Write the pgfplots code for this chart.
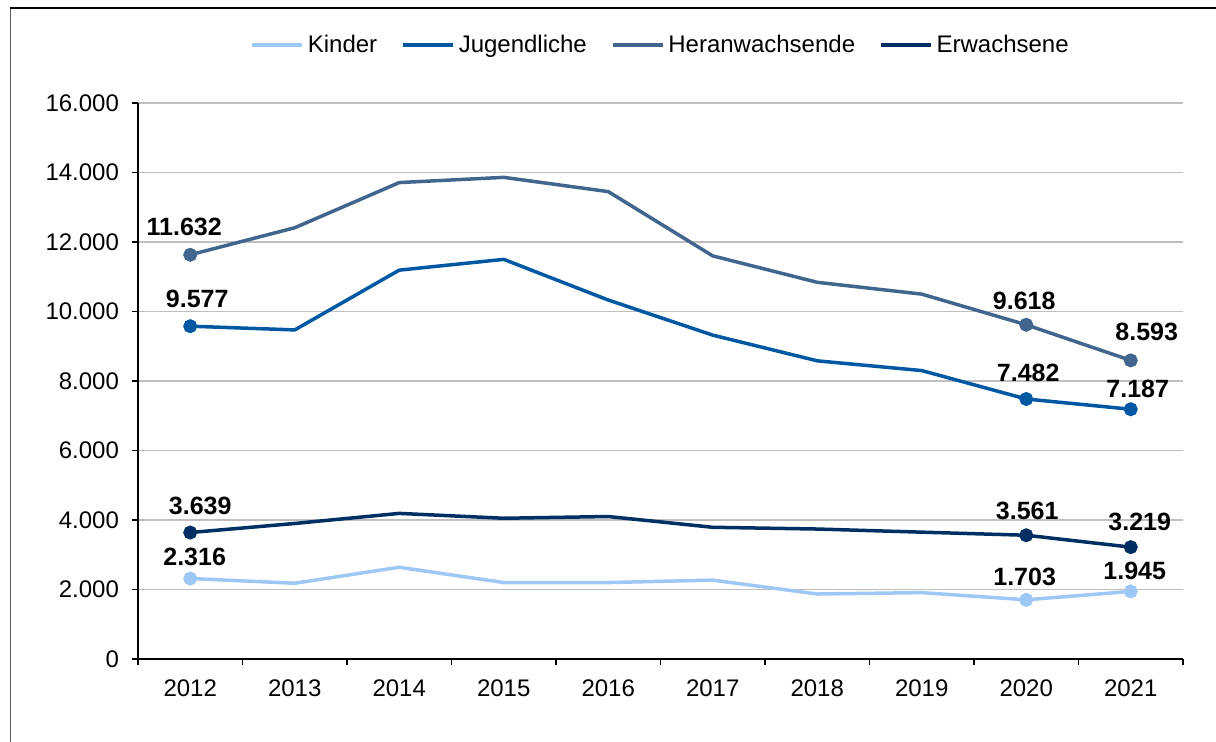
\documentclass[border=0pt]{standalone}
\usepackage{fontspec}
\setmainfont{Liberation Sans}
\usepackage{pgfplots}
\pgfplotsset{compat=1.18}
\definecolor{cKind}{HTML}{9DC8F5}
\definecolor{cJug}{HTML}{0058A3}
\definecolor{cHer}{HTML}{42658E}
\definecolor{cErw}{HTML}{002F63}
\definecolor{cGrid}{HTML}{BFBFBF}
\pgfkeys{/pgf/number format/.cd,1000 sep={.},assume math mode=true}
\begin{document}
\begin{tikzpicture}[font=\fontsize{12}{14.4}\selectfont]
\path[use as bounding box] (0,0) rectangle (608pt,-371pt);
\draw[gray!70!black, line width=0.5pt] (5pt,-371pt) -- (5pt,-4.2pt);
\draw[black, line width=1pt] (5pt,-4.2pt) -- (608pt,-4.2pt);
\begin{axis}[
  at={(69pt,-329.5pt)}, anchor=south west,
  scale only axis, width=522.5pt, height=278pt,
  xmin=-0.5, xmax=9.5, ymin=0, ymax=16000,
  xtick={0,...,9},
  xticklabels={2012,2013,2014,2015,2016,2017,2018,2019,2020,2021},
  minor xtick={-0.5,0.5,...,9.5},
  ytick={0,2000,...,16000},
  scaled y ticks=false,
  axis x line*=bottom, axis y line*=left,
  axis line style={black, line width=0.75pt, -},
  tick align=outside,
  major tick length=3pt, minor tick length=3pt,
  major x tick style={draw=none},
  minor x tick style={black, line width=0.75pt},
  ytick style={black, line width=0.75pt},
  ymajorgrids, grid style={cGrid, line width=0.6pt},
  yticklabel style={xshift=-3pt},
  xticklabel style={yshift=-4pt},
  clip=false,
  legend columns=4,
  legend style={at={(0.501,1.104)}, anchor=center, draw=none, fill=none,
    /tikz/every even column/.append style={column sep=10pt},
    nodes={inner xsep=2pt}},
  legend image code/.code={\draw[#1, line width=1.75pt] (0pt,0pt) -- (25pt,0pt);},
  every axis plot/.append style={line width=1.75pt},
]
\addplot[cKind, mark=none] coordinates {(0,2316)(1,2180)(2,2640)(3,2200)(4,2200)(5,2270)(6,1870)(7,1910)(8,1703)(9,1945)};
\addlegendentry{Kinder}
\addplot[cJug, mark=none] coordinates {(0,9577)(1,9470)(2,11190)(3,11500)(4,10330)(5,9320)(6,8580)(7,8300)(8,7482)(9,7187)};
\addlegendentry{Jugendliche}
\addplot[cHer, mark=none] coordinates {(0,11632)(1,12410)(2,13710)(3,13860)(4,13450)(5,11600)(6,10840)(7,10500)(8,9618)(9,8593)};
\addlegendentry{Heranwachsende}
\addplot[cErw, mark=none] coordinates {(0,3639)(1,3900)(2,4190)(3,4050)(4,4100)(5,3790)(6,3740)(7,3650)(8,3561)(9,3219)};
\addlegendentry{Erwachsene}

\pgfplotsset{labelled/.style={forget plot, only marks, mark=*, mark size=2.6pt,
  point meta=y, nodes near coords,
  visualization depends on={\thisrow{dx}\as\dx},
  visualization depends on={\thisrow{dy}\as\dy},
  every node near coord/.append style={black, font=\fontsize{12.5}{15}\selectfont\bfseries, anchor=center, xshift=\dx pt, yshift=\dy pt}}}
\addplot[cKind, labelled] table {
x y dx dy
0 2316 2.2 10.8
8 1703 -0.8 11.3
9 1945 2 10.3
};
\addplot[cJug, labelled] table {
x y dx dy
0 9577 3.5 13.7
8 7482 1 13.3
9 7187 3.5 10
};
\addplot[cHer, labelled] table {
x y dx dy
0 11632 -3 13.8
8 9618 -1 12
9 8593 8 14.2
};
\addplot[cErw, labelled] table {
x y dx dy
0 3639 5 13.3
8 3561 0.5 12.2
9 3219 4.5 12.5
};
\end{axis}
\end{tikzpicture}
\end{document}
